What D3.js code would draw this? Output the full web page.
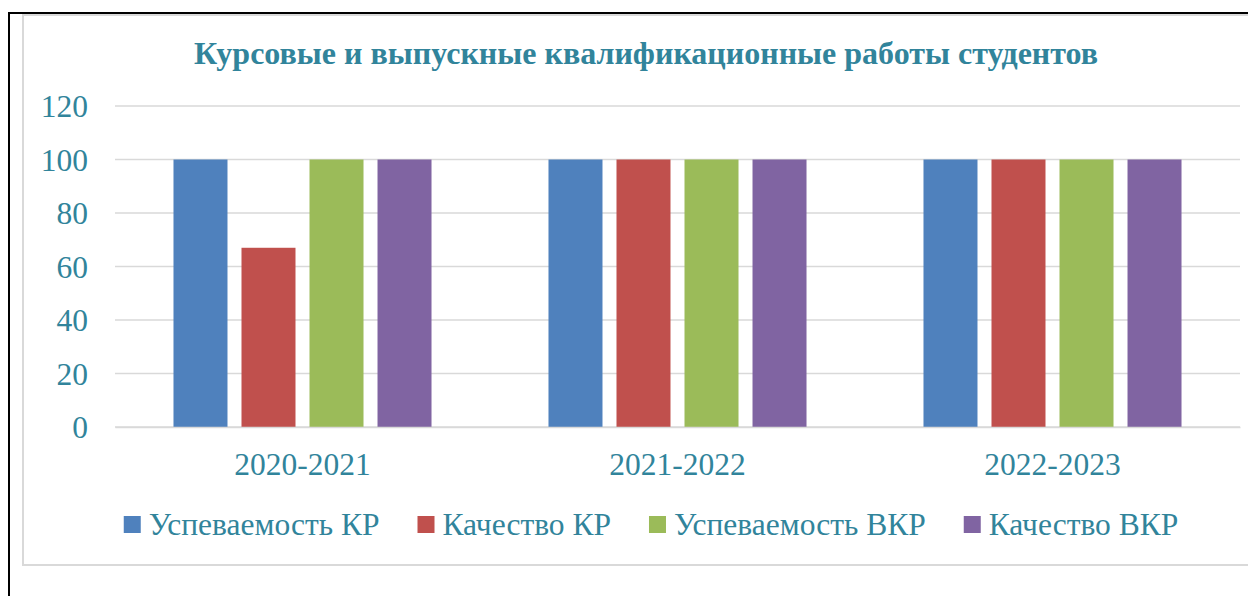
<!DOCTYPE html>
<html>
<head>
<meta charset="utf-8">
<script src="https://cdn.jsdelivr.net/npm/d3@7"></script>
<style>
  html, body { margin: 0; padding: 0; background: #fff; overflow: hidden; }
  svg { display: block; }
  text { font-family: "Liberation Serif", "Times New Roman", serif; fill: #31849B; }
</style>
</head>
<body>
<div id="chart"></div>
<script>
const title = "Курсовые и выпускные квалификационные работы студентов";
const years = ["2020-2021", "2021-2022", "2022-2023"];
const seriesNames = ["Успеваемость КР", "Качество КР", "Успеваемость ВКР", "Качество ВКР"];
const uspevKR = [100, 100, 100];
const kachKR = [67, 100, 100];
const uspevVKR = [100, 100, 100];
const kachVKR = [100, 100, 100];
const yTicks = [0, 20, 40, 60, 80, 100, 120];
const colors = ["#4F81BD", "#C0504D", "#9BBB59", "#8064A2"];

const values = [uspevKR, kachKR, uspevVKR, kachVKR];
const data = years.map((y, i) => ({
  year: y,
  vals: seriesNames.map((s, j) => ({ key: s, value: values[j][i], color: colors[j] }))
}));

const W = 1248, H = 596;
const svg = d3.select("#chart").append("svg")
  .attr("width", W).attr("height", H);

// outer frame (black) and chart area border (gray)
svg.append("path")
  .attr("d", `M9,${H} V13 H${W}`)
  .attr("fill", "none").attr("stroke", "#000").attr("stroke-width", 2);
svg.append("rect")
  .attr("x", 23).attr("y", 15).attr("width", 1260).attr("height", 550)
  .attr("fill", "none").attr("stroke", "#D9D9D9").attr("stroke-width", 2);

const x0 = d3.scaleBand().domain(years).range([115, 1240]);
const x1 = d3.scaleBand().domain(seriesNames).range([0, x0.bandwidth()])
  .paddingInner(0.206).paddingOuter(0.86);
const y = d3.scaleLinear().domain([0, 120]).range([427, 106]);

// grid
svg.append("g").selectAll("line").data(yTicks).join("line")
  .attr("x1", 115).attr("x2", 1240)
  .attr("y1", d => y(d)).attr("y2", d => y(d))
  .attr("stroke", "#D9D9D9").attr("stroke-width", 1.5);

// y axis labels
const yAxis = d3.axisLeft(y).tickValues(yTicks).tickSize(0).tickPadding(0);
const gy = svg.append("g").attr("transform", "translate(88,0)").call(yAxis);
gy.select(".domain").remove();
gy.selectAll("text").style("font-size", "31.5px").attr("dy", "0.34em");

// bars
const groups = svg.append("g").selectAll("g").data(data).join("g")
  .attr("transform", d => `translate(${x0(d.year)},0)`);
groups.selectAll("rect").data(d => d.vals).join("rect")
  .attr("x", d => x1(d.key))
  .attr("width", x1.bandwidth())
  .attr("y", d => y(d.value))
  .attr("height", d => y(0) - y(d.value))
  .attr("fill", d => d.color);

// x axis
const xAxis = d3.axisBottom(x0).tickSize(0).tickPadding(0);
const gx = svg.append("g").attr("transform", `translate(0,${y(0)})`).call(xAxis);
gx.select(".domain").attr("stroke", "#D9D9D9").attr("stroke-width", 1.5);
gx.selectAll("text").style("font-size", "31.5px").attr("dy", null).attr("y", 48);

// title
svg.append("text")
  .attr("x", 646).attr("y", 64)
  .attr("text-anchor", "middle")
  .style("font-size", "32px").style("font-weight", "bold")
  .text(title);

// legend
const legend = svg.append("g");
const items = legend.selectAll("g").data(seriesNames).join("g");
items.append("rect")
  .attr("width", 17).attr("height", 17).attr("y", 516)
  .attr("fill", (d, i) => colors[i]);
items.append("text")
  .attr("x", 25).attr("y", 535)
  .style("font-size", "31.5px")
  .text(d => d);
let xpos = 0;
const positions = [];
items.each(function () {
  positions.push(xpos);
  const w = d3.select(this).select("text").node().getComputedTextLength();
  xpos += 25 + w + 38;
});
const total = xpos - 38;
const start = 651 - total / 2;
items.attr("transform", (d, i) => `translate(${start + positions[i]},0)`);
</script>
</body>
</html>
